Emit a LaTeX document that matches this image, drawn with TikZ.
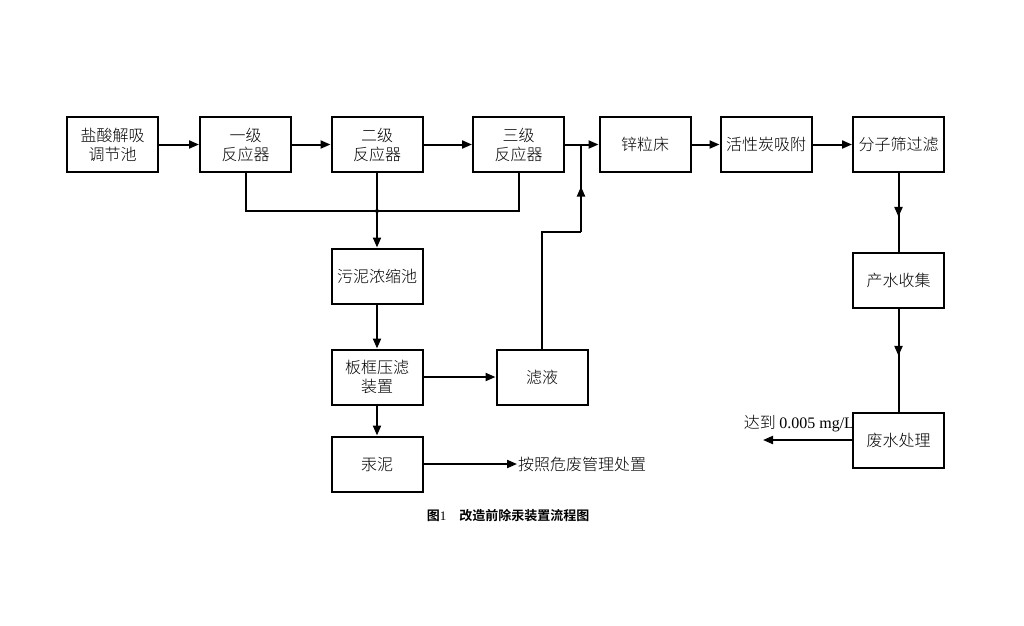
\documentclass[tikz,border=0pt]{standalone}
\usepackage{fontspec}
\setmainfont{Liberation Serif}
\newfontfamily\cjk{Noto Sans CJK SC Light}[BoldFont={Noto Sans CJK SC Bold}]
\usetikzlibrary{arrows.meta,decorations.markings}

\begin{document}
\begin{tikzpicture}
  [x=1pt,y=-1pt,line width=2pt,>={Triangle[length=10pt,width=8pt]},
   every node/.style={font=\cjk\fontsize{16}{19}\selectfont},
   box/.style={draw,rectangle,minimum width=91pt,minimum height=55pt,align=center,inner sep=1pt},
   midarrow/.style={postaction={decorate},decoration={markings,mark=at position #1 with {\arrow{>}}}}]

  \useasboundingbox (0,0) rectangle (1024,625);

  % main line
  \node[box] (a) at (112.5,144.5) {盐酸解吸\\调节池};
  \node[box] (b) at (245.5,144.5) {一级\\反应器};
  \node[box] (c) at (377,144.5)   {二级\\反应器};
  \node[box] (d) at (518.5,144.5) {三级\\反应器};
  \node[box] (e) at (645,144.5)   {锌粒床};
  \node[box] (f) at (766,144.5)   {活性炭吸附};
  \node[box] (g) at (898.5,144.5) {分子筛过滤};

  % sludge branch
  \node[box] (h) at (377,276) {污泥浓缩池};
  \node[box] (i) at (377,377) {板框压滤\\装置};
  \node[box] (j) at (542,377) {滤液};
  \node[box] (k) at (377,464) {汞泥};

  % water branch
  \node[box] (l) at (898.5,280) {产水收集};
  \node[box] (m) at (898.5,440) {废水处理};

  \node[anchor=west,inner sep=0pt] (out1) at (517,464) {按照危废管理处置};
  \node[anchor=south east,inner sep=0pt] (out2) at (855,433) {达到 {\rmfamily 0.005 mg/L}};
  \coordinate (out3) at (763,440);

  \node[font=\cjk\bfseries\fontsize{13}{15}\selectfont] (cap) at (508,516) {图{\rmfamily\mdseries 1}\quad 改造前除汞装置流程图};

  \coordinate (j1) at (377,211);
  \coordinate (j2) at (581,232);
  \coordinate (m1) at (581,144.5);

  \draw[->] (a) -- (b);
  \draw[->] (b) -- (c);
  \draw[->] (c) -- (d);
  \draw (d) -- (m1);
  \draw[->] (m1) -- (e);
  \draw[->] (e) -- (f);
  \draw[->] (f) -- (g);

  \draw (b.south) |- (j1) -| (d.south);
  \draw[->] (c) -- (h);
  \fill (j1) circle (2pt);
  \draw[->] (h) -- (i);
  \draw[->] (i) -- (k);
  \draw[->] (i) -- (j.west);
  \draw[->] (k) -- (out1);
  \draw (j.north) |- (j2);
  \draw[midarrow=0.52] (j2) -- (m1);

  \draw[midarrow=0.56] (g) -- (l);
  \draw[midarrow=0.46] (l) -- (m);
  \draw[->] (m) -- (out3);
\end{tikzpicture}
\end{document}
